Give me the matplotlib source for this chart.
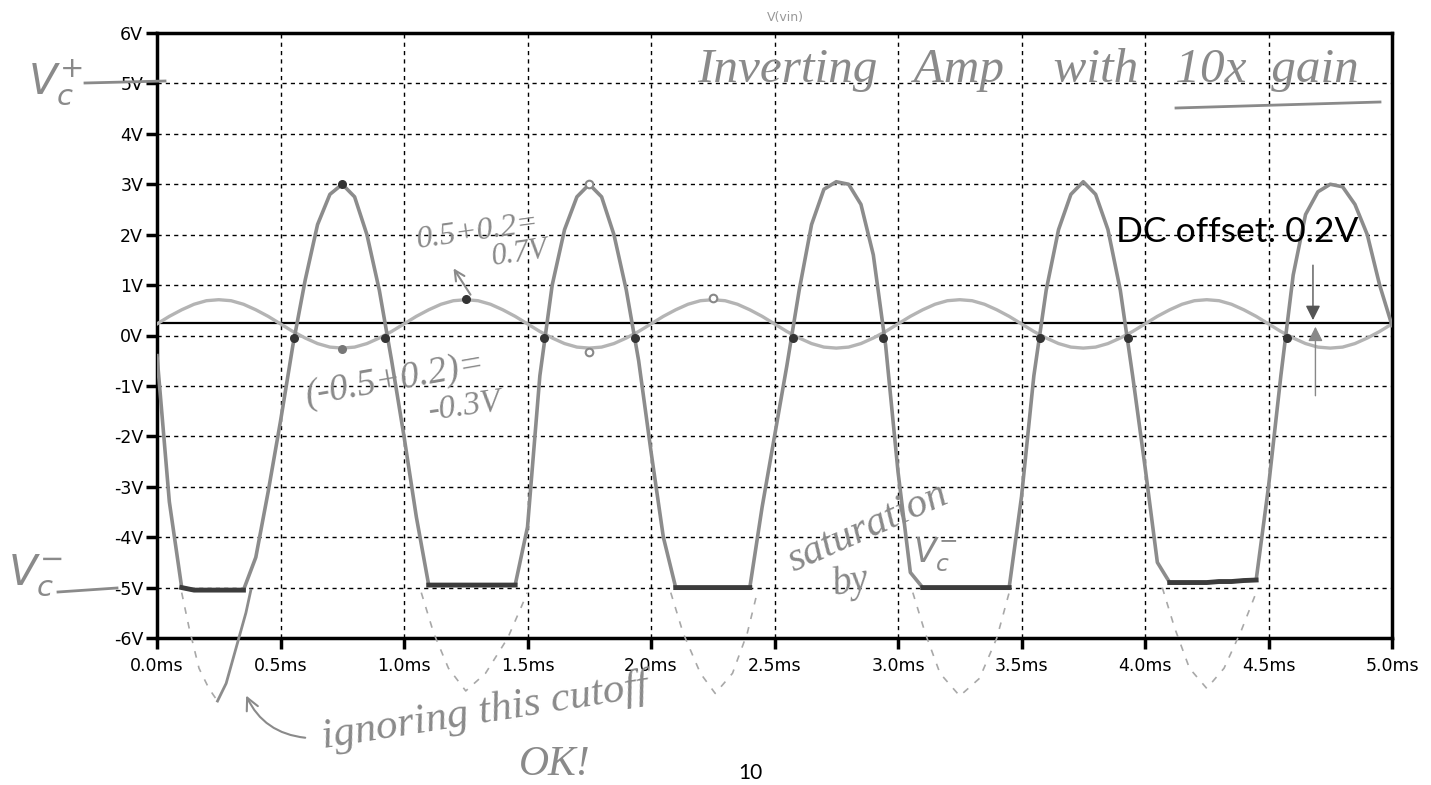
import numpy as np
import matplotlib.pyplot as plt
from matplotlib.patches import FancyArrowPatch

# sample times (ms), one reading every 0.05 ms
t_ms = np.linspace(0.0, 5.0, 101)

# V(vin)
vin = [0.23, 0.38, 0.51, 0.62, 0.69, 0.71, 0.69, 0.62, 0.51, 0.38,
       0.23, 0.08, -0.05, -0.16, -0.23, -0.25, -0.23, -0.16, -0.05, 0.08,
       0.23, 0.38, 0.51, 0.62, 0.69, 0.71, 0.69, 0.62, 0.51, 0.38,
       0.23, 0.08, -0.05, -0.16, -0.23, -0.25, -0.23, -0.16, -0.05, 0.08,
       0.23, 0.38, 0.51, 0.62, 0.69, 0.71, 0.69, 0.62, 0.51, 0.38,
       0.23, 0.08, -0.05, -0.16, -0.23, -0.25, -0.23, -0.16, -0.05, 0.08,
       0.23, 0.38, 0.51, 0.62, 0.69, 0.71, 0.69, 0.62, 0.51, 0.38,
       0.23, 0.08, -0.05, -0.16, -0.23, -0.25, -0.23, -0.16, -0.05, 0.08,
       0.23, 0.38, 0.51, 0.62, 0.69, 0.71, 0.69, 0.62, 0.51, 0.38,
       0.23, 0.08, -0.05, -0.16, -0.23, -0.25, -0.23, -0.16, -0.05, 0.08,
       0.23]

# V(vout), traced by hand over the scan
vout = [-0.4, -3.3, -5.0, -5.05, -5.05, -5.05, -5.05, -5.05, -4.4, -3.1,
        -1.7, -0.2, 1.1, 2.2, 2.8, 3.0, 2.75, 2.0, 0.9, -0.5,
        -2.0, -3.6, -4.95, -4.95, -4.95, -4.95, -4.95, -4.95, -4.95, -4.95,
        -3.8, -0.8, 1.0, 2.1, 2.75, 3.0, 2.75, 2.0, 0.9, -0.5,
        -2.3, -4.0, -5.0, -5.0, -5.0, -5.0, -5.0, -5.0, -5.0, -3.4,
        -2.0, -0.6, 0.9, 2.2, 2.9, 3.05, 3.0, 2.6, 1.6, -0.2,
        -2.7, -4.7, -5.0, -5.0, -5.0, -5.0, -5.0, -5.0, -5.0, -5.0,
        -3.2, -0.8, 0.9, 2.1, 2.8, 3.05, 2.8, 2.1, 0.9, -0.8,
        -2.6, -4.5, -4.9, -4.9, -4.9, -4.9, -4.88, -4.88, -4.86, -4.85,
        -3.0, -0.8, 1.2, 2.4, 2.85, 3.0, 2.95, 2.6, 2.0, 1.0,
        0.2]

dc_offset = 0.25

# dashed "ignored" continuation below -5V
dip_t = [[0.10, 0.13, 0.17, 0.21, 0.245],
         [1.07, 1.12, 1.18, 1.25, 1.33, 1.42, 1.50],
         [2.08, 2.13, 2.20, 2.26, 2.33, 2.39, 2.43],
         [3.06, 3.11, 3.17, 3.25, 3.33, 3.40, 3.45],
         [4.07, 4.12, 4.18, 4.25, 4.32, 4.39, 4.45]]
dip_v = [[-5.1, -5.8, -6.6, -7.0, -7.25],
         [-5.1, -5.9, -6.6, -7.05, -6.7, -6.0, -5.1],
         [-5.1, -5.9, -6.7, -7.1, -6.7, -5.9, -5.1],
         [-5.1, -5.9, -6.7, -7.15, -6.8, -6.0, -5.1],
         [-5.0, -5.8, -6.6, -7.0, -6.6, -5.85, -5.1]]
# solid right flank of the first dip
flank_t = [0.245, 0.28, 0.32, 0.36, 0.38]
flank_v = [-7.25, -6.9, -6.2, -5.5, -5.05]

# pencil dots
dot_t = [0.555, 0.925, 1.565, 1.935, 2.575, 2.94, 3.575, 3.93, 4.575, 0.75, 1.25]
dot_v = [-0.05, -0.05, -0.05, -0.05, -0.05, -0.05, -0.05, -0.05, -0.05, 3.0, 0.72]
grey_dot_t = [0.75]
grey_dot_v = [-0.27]
ring_t = [1.75, 1.75, 2.25]
ring_v = [3.0, -0.33, 0.74]

x_ticks = [0.0, 0.5, 1.0, 1.5, 2.0, 2.5, 3.0, 3.5, 4.0, 4.5, 5.0]
y_ticks = [-6, -5, -4, -3, -2, -1, 0, 1, 2, 3, 4, 5, 6]

W, H = 1431, 785
fig = plt.figure(figsize=(W / 100, H / 100), dpi=100)
ax = fig.add_axes([157 / W, 1 - 638 / H, (1392 - 157) / W, (638 - 33) / H])

pencil = '#8c8c8c'
hand = dict(family='Liberation Serif', style='italic', color='#8a8a8a')


def px(x, y):
    return x / W, 1 - y / H


ax.set_xlim(0, 5)
ax.set_ylim(-6, 6)
ax.set_xticks(x_ticks)
ax.set_xticklabels([f'{v:.1f}ms' for v in x_ticks])
ax.set_yticks(y_ticks)
ax.set_yticklabels([f'{v}V' for v in y_ticks])
ax.tick_params(axis='both', labelsize=12.5, width=2.5, length=8, color='black')
ax.tick_params(axis='x', pad=6)
ax.tick_params(axis='y', pad=2)
for s in ax.spines.values():
    s.set_linewidth(2.5)
ax.grid(True, color='black', linestyle=(0, (3, 3)), linewidth=1.0)
ax.set_axisbelow(True)

ax.axhline(dc_offset, color='black', lw=1.6, zorder=2)
ax.plot(t_ms, vin, color='#b4b4b4', lw=2.4, zorder=3)
ax.plot(t_ms, vout, color=pencil, lw=2.6, zorder=4)
vo = np.array(vout)
flat = np.where(vo <= -4.8, vo, np.nan)
ax.plot(t_ms, flat, color='#3c3c3c', lw=3.5, zorder=5)

for tt, vv in zip(dip_t, dip_v):
    ax.plot(tt, vv, color='#a8a8a8', lw=1.2, ls=(0, (4, 5)), clip_on=False, zorder=4)
ax.plot(flank_t, flank_v, color=pencil, lw=2.0, clip_on=False, zorder=4)

ax.scatter(dot_t, dot_v, s=30, color='#333333', zorder=6)
ax.scatter(grey_dot_t, grey_dot_v, s=30, color='#777777', zorder=6)
ax.scatter(ring_t, ring_v, s=30, facecolor='white', edgecolor='#888888', lw=1.5, zorder=6)

# arrows for the DC offset
ax.annotate('', xy=(4.68, dc_offset), xytext=(4.68, 1.45),
            arrowprops=dict(arrowstyle='-|>', color='#555555', lw=1.0, mutation_scale=22))
ax.annotate('', xy=(4.69, dc_offset - 0.02), xytext=(4.69, -1.25),
            arrowprops=dict(arrowstyle='-|>', color='#888888', lw=1.0, mutation_scale=22))

# printed text
fig.text(*px(785, 17), 'V(vin)', fontsize=9, color='#999999', ha='center', va='center')
fig.text(*px(1237, 232), 'DC offset: 0.2V', fontsize=25.5, family='Lato', ha='center', va='center')
fig.text(*px(750, 773), '10', fontsize=15, family='Lato', ha='center', va='center')

# handwriting
fig.text(*px(1028, 70), 'Inverting   Amp    with   10x  gain', fontsize=35.5, ha='center', va='center', **hand)
fig.add_artist(plt.Line2D([1176 / W, 1380 / W], [1 - 108 / H, 1 - 102 / H], color='#8a8a8a', lw=2))
fig.text(*px(55, 82), r'$V_c^{+}$', fontsize=30, ha='center', va='center', color='#8a8a8a')
fig.add_artist(plt.Line2D([85 / W, 165 / W], [1 - 83 / H, 1 - 81 / H], color='#8a8a8a', lw=2))
fig.text(*px(35, 575), r'$V_c^{-}$', fontsize=30, ha='center', va='center', color='#8a8a8a')
fig.add_artist(plt.Line2D([58 / W, 117 / W], [1 - 592 / H, 1 - 588 / H], color='#8a8a8a', lw=2))

fig.text(*px(478, 232), '0.5+0.2=', fontsize=23, rotation=8, ha='center', va='center', **hand)
fig.text(*px(520, 254), '0.7V', fontsize=22, rotation=8, ha='center', va='center', **hand)
fig.add_artist(FancyArrowPatch(px(472, 297), px(452, 266), arrowstyle='->', mutation_scale=18,
                               color='#8a8a8a', lw=1.5))
fig.text(*px(395, 380), '(-0.5+0.2)=', fontsize=27, rotation=10, ha='center', va='center', **hand)
fig.text(*px(465, 406), '-0.3V', fontsize=24, rotation=8, ha='center', va='center', **hand)

fig.text(*px(868, 528), 'saturation', fontsize=30, rotation=24, ha='center', va='center', **hand)
fig.text(*px(850, 582), 'by', fontsize=28, rotation=10, ha='center', va='center', **hand)
fig.text(*px(935, 555), r'$V_c^{-}$', fontsize=24, ha='center', va='center', color='#8a8a8a')

fig.text(*px(485, 712), 'ignoring this cutoff', fontsize=31, rotation=9, ha='center', va='center', **hand)
fig.text(*px(555, 765), 'OK!', fontsize=30, ha='center', va='center', **hand)
fig.add_artist(FancyArrowPatch(px(308, 738), px(245, 693), arrowstyle='->', mutation_scale=22,
                               connectionstyle='arc3,rad=-0.3', color='#8a8a8a', lw=1.5))

fig.savefig('out.png', dpi=100)
